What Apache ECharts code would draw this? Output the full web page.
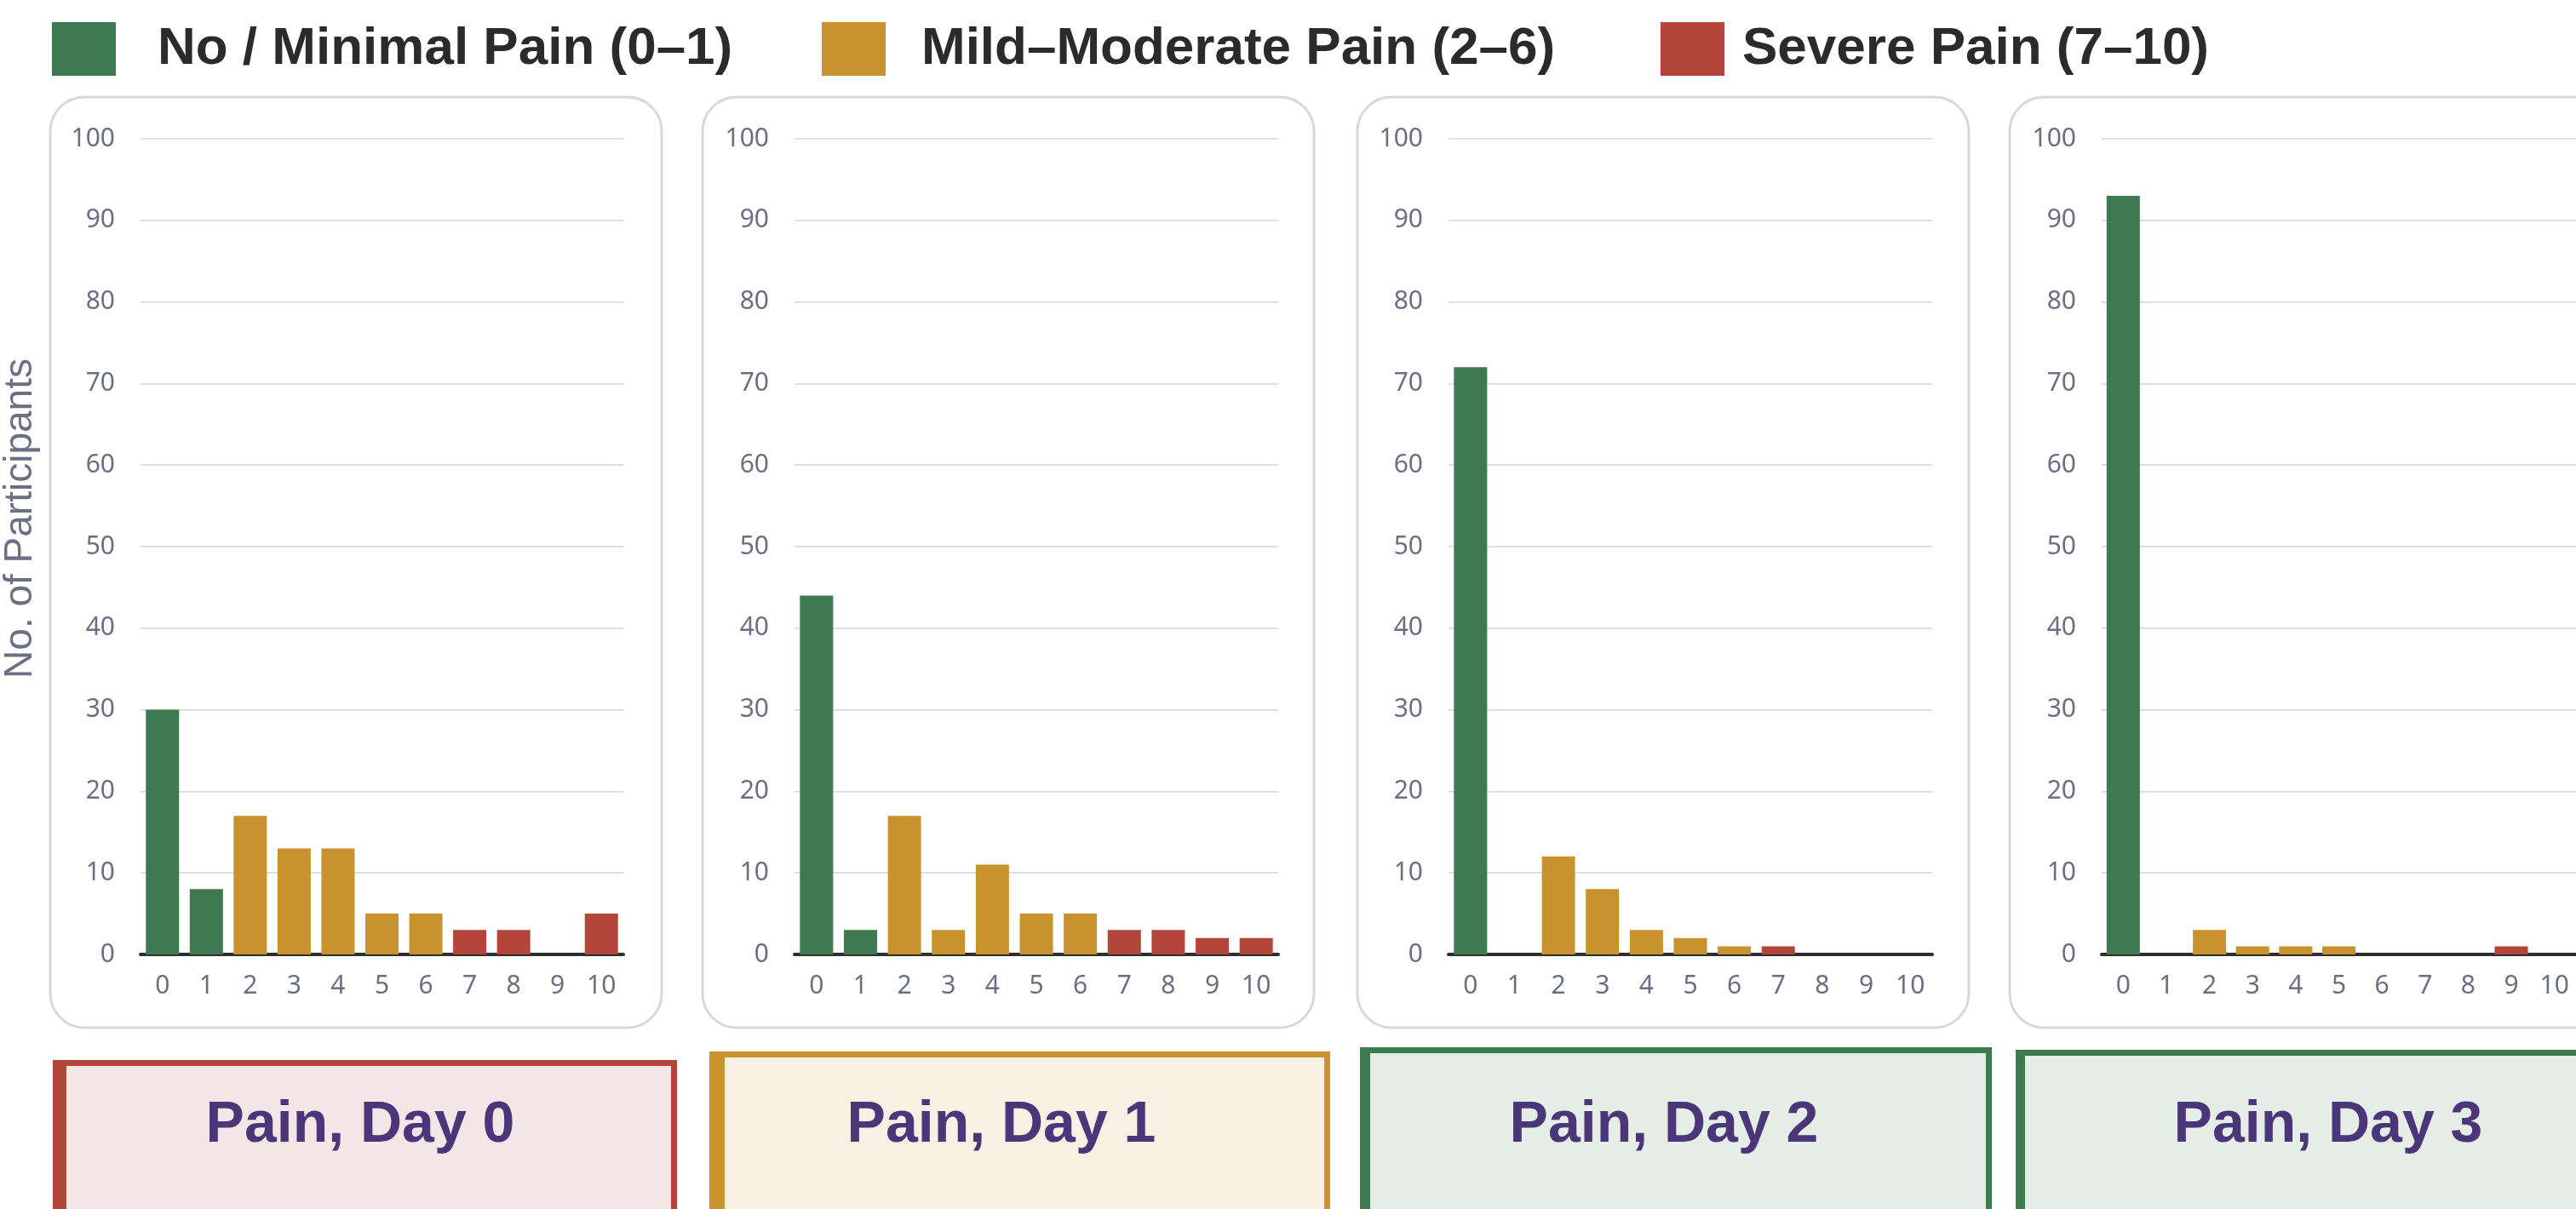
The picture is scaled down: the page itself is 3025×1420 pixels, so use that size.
<!DOCTYPE html>
<html>

<head>
    <meta charset="UTF-8">
    <title>Pain scores by day</title>
    <script src="https://cdn.jsdelivr.net/npm/echarts@6/dist/echarts.min.js"></script>
    <style>
        html, body { margin: 0; padding: 0; background: #fff; }
        #chart { width: 3025px; height: 1420px; }
    </style>
</head>

<body>
    <div id="chart"></div>
    <script>
        // pain score categories (x axis)
        var painScores = ['0', '1', '2', '3', '4', '5', '6', '7', '8', '9', '10'];
        // no. of participants per score, one array per day
        var day0 = [30, 8, 17, 13, 13, 5, 5, 3, 3, 0, 5];
        var day1 = [44, 3, 17, 3, 11, 5, 5, 3, 3, 2, 2];
        var day2 = [72, 0, 12, 8, 3, 2, 1, 1, 0, 0, 0];
        var day3 = [93, 0, 3, 1, 1, 1, 0, 0, 0, 1, 0];
        var panelTitles = ['Pain, Day 0', 'Pain, Day 1', 'Pain, Day 2', 'Pain, Day 3'];
        // severity groups: name and highest score in the group
        var groupNames = ['No / Minimal Pain (0–1)', 'Mild–Moderate Pain (2–6)', 'Severe Pain (7–10)'];
        var groupMax = [1, 6, 10];
        var yMin = 0, yMax = 100, yStep = 10;

        var days = [day0, day1, day2, day3];
        var groupColors = ['#3d7a4f', '#c8922f', '#b3453a'];

        // layout
        var panelLeft = [59, 825, 1594, 2360];
        var gridLeft = [164, 933, 1701, 2468];
        var boxes = [
            { x0: 62, x1: 795, y: 1245, lw: 16, border: '#b3463a', fill: '#f4e6e6', tx: 423 },
            { x0: 833, x1: 1562, y: 1235, lw: 18, border: '#c9932f', fill: '#f8f0e3', tx: 1176 },
            { x0: 1597, x1: 2339, y: 1230, lw: 12, border: '#3d7a4e', fill: '#e4eee6', tx: 1954 },
            { x0: 2367, x1: 3100, y: 1233, lw: 11, border: '#3d7a4e', fill: '#e4eee6', tx: 2734 }
        ];
        var legendX = [61, 965, 1950];
        var legendPad = [44, 37, 16];

        function groupOf(score) {
            for (var k = 0; k < groupMax.length; k++) {
                if (score <= groupMax[k]) return k;
            }
            return groupMax.length - 1;
        }

        var tickColor = '#6b6f80';
        var grids = [], xAxes = [], yAxes = [], series = [], graphics = [];

        days.forEach(function (vals, i) {
            grids.push({ left: gridLeft[i], top: 163, width: 568, height: 958 });
            xAxes.push({
                type: 'category', gridIndex: i, data: painScores,
                axisLine: { lineStyle: { color: '#2e2e2e', width: 4 } },
                axisTick: { length: 9, interval: 0, lineStyle: { color: '#2e2e2e', width: 3 } },
                axisLabel: { interval: 0, margin: 22, fontSize: 30, color: tickColor, fontFamily: 'Noto Sans' }
            });
            var y = {
                type: 'value', gridIndex: i, min: yMin, max: yMax, interval: yStep,
                axisLine: { show: false }, axisTick: { show: false },
                axisLabel: { margin: 30, fontSize: 30, color: tickColor, fontFamily: 'Noto Sans' },
                splitLine: { lineStyle: { color: '#dcdee5', width: 2 } }
            };
            if (i === 0) {
                y.name = 'No. of Participants';
                y.nameLocation = 'middle';
                y.nameGap = 118;
                y.nameTextStyle = {
                    fontSize: 46, color: '#6b7082', fontFamily: 'Liberation Sans',
                    padding: [0, 0, 0, 66]
                };
            }
            yAxes.push(y);

            groupNames.forEach(function (name, k) {
                series.push({
                    type: 'bar', name: name, xAxisIndex: i, yAxisIndex: i,
                    stack: 'day' + i, barWidth: 39,
                    itemStyle: { color: groupColors[k] },
                    emphasis: { disabled: true },
                    data: vals.map(function (v, s) { return groupOf(s) === k ? v : '-'; })
                });
            });

            // rounded panel outline
            graphics.push({
                type: 'rect', z: -10,
                shape: { x: panelLeft[i], y: 114, width: 718, height: 1093, r: 40 },
                style: { fill: null, stroke: '#d5d8df', lineWidth: 3 }
            });
            // caption box under each panel
            var b = boxes[i];
            graphics.push({
                type: 'rect', z: 1,
                shape: { x: b.x0, y: b.y, width: b.x1 - b.x0, height: 300 },
                style: { fill: b.border }
            });
            graphics.push({
                type: 'rect', z: 2,
                shape: { x: b.x0 + b.lw, y: b.y + 7, width: b.x1 - b.x0 - b.lw - 7, height: 300 },
                style: { fill: b.fill }
            });
            graphics.push({
                type: 'text', z: 3, x: b.tx, y: 1322,
                style: {
                    text: panelTitles[i], fill: '#4b3679',
                    font: 'bold 68px "Liberation Sans"',
                    textAlign: 'center', textVerticalAlign: 'middle'
                }
            });
        });

        var legends = groupNames.map(function (name, k) {
            return {
                data: [name], left: legendX[k], top: 26, padding: 0,
                icon: 'rect', itemWidth: 75, itemHeight: 63, selectedMode: false,
                textStyle: {
                    fontSize: 62, fontWeight: 'bold', color: '#2b2b2b',
                    fontFamily: 'Liberation Sans', padding: [0, 0, 0, legendPad[k]]
                }
            };
        });

        var option = {
            animation: false,
            backgroundColor: '#ffffff',
            legend: legends,
            grid: grids,
            xAxis: xAxes,
            yAxis: yAxes,
            series: series,
            graphic: graphics
        };

        var myChart = echarts.init(document.getElementById('chart'));
        myChart.setOption(option);
    </script>
</body>

</html>
